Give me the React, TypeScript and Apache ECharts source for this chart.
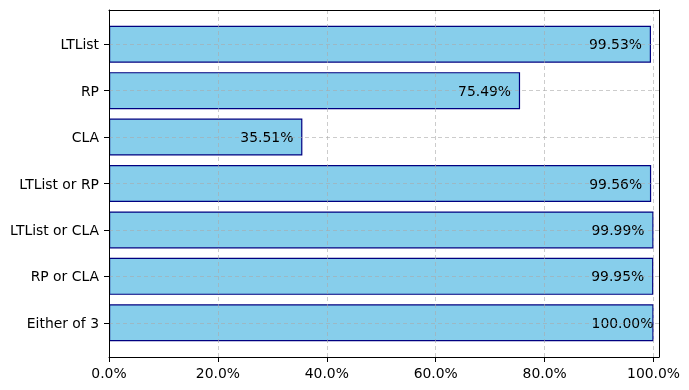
import React, { useEffect, useRef } from "react";
import * as echarts from "echarts";

const categories = ["LTList", "RP", "CLA", "LTList or RP", "LTList or CLA", "RP or CLA", "Either of 3"];
const values = [99.53, 75.49, 35.51, 99.56, 99.99, 99.95, 100.0];
const xTicks = [0, 20, 40, 60, 80, 100];

const FONT = "DejaVu Sans";
const FS = 13.9;
const GRID_COLOR = "rgba(170,170,170,0.6)";

const frameAxis = {
  axisLine: { show: true, onZero: false, lineStyle: { color: "#000", width: 1 } },
  axisTick: { show: false },
  axisLabel: { show: false },
  splitLine: { show: false },
};

export default function App() {
  const ref = useRef<HTMLDivElement>(null);
  useEffect(() => {
    if (!ref.current) return;
    const chart = echarts.init(ref.current, undefined, { renderer: "svg" });
    const option: any = {
      animation: false,
      textStyle: { fontFamily: FONT },
      grid: [
        { left: 109, right: 30, top: 10, bottom: 33 },
        { left: 109, right: 30, top: 21, bottom: 44 },
      ],
      xAxis: [
        {
          gridIndex: 0,
          type: "value",
          min: 0,
          max: 101,
          interval: 20,
          z: 5,
          axisLine: { show: true, onZero: false, lineStyle: { color: "#000", width: 1 } },
          axisTick: { show: true, length: 5, lineStyle: { color: "#000" } },
          axisLabel: {
            color: "#000",
            fontSize: FS,
            fontFamily: FONT,
            margin: 9,
            showMaxLabel: false,
            formatter: (v: number) => (xTicks.indexOf(v) >= 0 ? v.toFixed(1) + "%" : ""),
          },
          splitLine: { show: true, lineStyle: { color: GRID_COLOR, type: [4, 3], width: 1 } },
        },
        {
          gridIndex: 1,
          type: "value",
          min: 0,
          max: 101,
          show: false,
        },
        {
          gridIndex: 0,
          type: "value",
          position: "top",
          min: 0,
          max: 101,
          z: 6,
          ...frameAxis,
        },
      ],
      yAxis: [
        { gridIndex: 0, type: "value", min: 0, max: 1, position: "left", z: 6, ...frameAxis },
        {
          gridIndex: 1,
          type: "category",
          data: categories,
          inverse: true,
          axisLine: { show: false },
          axisTick: { show: true, alignWithLabel: true, length: 5, lineStyle: { color: "#000" } },
          axisLabel: { color: "#000", fontSize: FS, fontFamily: FONT, margin: 10 },
          splitLine: { show: false },
        },
        { gridIndex: 0, type: "value", min: 0, max: 1, position: "right", z: 6, ...frameAxis },
      ],
      series: [
        {
          type: "bar",
          xAxisIndex: 1,
          yAxisIndex: 1,
          data: values,
          barWidth: 37,
          itemStyle: { color: "#87CEEB", borderColor: "#000080", borderWidth: 1.2 },
          label: {
            show: true,
            position: ["100%", "50%"],
            offset: [-62, 0],
            align: "left",
            verticalAlign: "middle",
            color: "#000",
            fontSize: FS,
            fontFamily: FONT,
            formatter: (p: any) => Number(p.value).toFixed(2) + "%",
          },
          markLine: {
            silent: true,
            symbol: "none",
            z: 5,
            label: { show: false },
            lineStyle: { color: GRID_COLOR, type: [4, 3], width: 1 },
            data: categories.map((_, i) => ({ yAxis: i })),
          },
        },
      ],
    };
    chart.setOption(option);
    return () => chart.dispose();
  }, []);
  return <div ref={ref} style={{ position: "fixed", left: 0, top: 0, width: 689, height: 390 }} />;
}
